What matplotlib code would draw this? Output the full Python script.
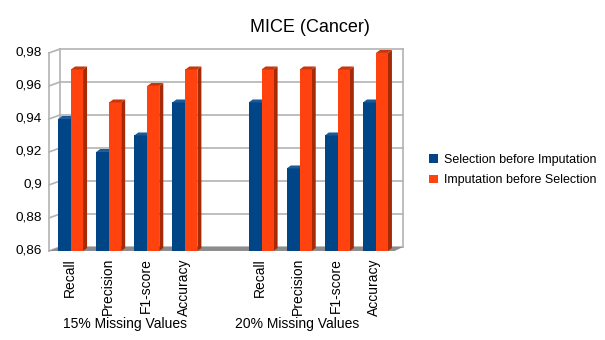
import numpy as np
import matplotlib.pyplot as plt
from matplotlib.patches import Polygon, Patch
import matplotlib.transforms as mtransforms

# ===================================================
# DATA
# ===================================================

metrics = ["Recall", "Precision", "F1-score", "Accuracy"]
groups = ["15% Missing Values", "20% Missing Values"]
series_names = ["Selection before Imputation", "Imputation before Selection"]

sel_15 = [0.94, 0.92, 0.93, 0.95]
imp_15 = [0.97, 0.95, 0.96, 0.97]
sel_20 = [0.95, 0.91, 0.93, 0.95]
imp_20 = [0.97, 0.97, 0.97, 0.98]

y_ticks = [0.86, 0.88, 0.90, 0.92, 0.94, 0.96, 0.98]
y_tick_labels = ["0,86", "0,88", "0,9", "0,92", "0,94", "0,96", "0,98"]

# ===================================================
# STYLE
# ===================================================

plt.rcParams["font.family"] = ["Liberation Sans", "DejaVu Sans"]

blue = "#004586"
blue_side = "#00305c"
blue_top = "#1a5a98"
orange = "#ff420e"
orange_side = "#a52a08"
orange_top = "#c8360c"
grid_col = "#b3b3b3"

ymin = 0.86
ymax = 0.98

# 3D depth offsets in data units
dx = 0.105
dy = 0.0018
wall_dx = 0.29
wall_dy = 0.0024

w_blue = 0.34
w_orange = 0.315

# ===================================================
# FIGURE
# ===================================================

fig = plt.figure(figsize=(6.05, 3.4), dpi=100)

ax = fig.add_axes([60 / 605, 1 - 247 / 340, 343 / 605, 198 / 340])

ax.set_xlim(0, 9)
ax.set_ylim(ymin, ymax)

for s in ax.spines.values():
    s.set_visible(False)

ax.set_xticks([])
ax.set_yticks([])

# back wall grid
for y in y_ticks:
    ax.plot([0, 9], [y, y], color=grid_col, lw=1.2, zorder=1, clip_on=False)
    # left wall slant
    ax.plot([-wall_dx, 0], [y - wall_dy, y], color=grid_col, lw=1.2,
            zorder=1, clip_on=False)

ax.plot([9, 9], [ymin, ymax], color=grid_col, lw=1.2, zorder=1, clip_on=False)
ax.plot([0, 0], [ymin, ymax], color=grid_col, lw=1.2, zorder=1, clip_on=False)
ax.plot([-wall_dx, -wall_dx], [ymin - wall_dy, ymax - wall_dy],
        color=grid_col, lw=1.2, zorder=1, clip_on=False)

# floor
floor = Polygon(
    [[-wall_dx, ymin - wall_dy], [0, ymin], [9, ymin],
     [9 - 0.22, ymin - wall_dy], ],
    closed=True, facecolor="#8c8c8c", edgecolor="none",
    zorder=2, clip_on=False
)
ax.add_patch(floor)


def bar3d(x0, width, value, face, side, top):
    base = ymin - wall_dy
    value = value - wall_dy
    front = Polygon(
        [[x0, base], [x0 + width, base], [x0 + width, value], [x0, value]],
        closed=True, facecolor=face, edgecolor="none", zorder=4, clip_on=False
    )
    right = Polygon(
        [[x0 + width, base], [x0 + width + dx, base + dy],
         [x0 + width + dx, value + dy], [x0 + width, value]],
        closed=True, facecolor=side, edgecolor="none", zorder=3, clip_on=False
    )
    cap = Polygon(
        [[x0, value], [x0 + width, value],
         [x0 + width + dx, value + dy], [x0 + dx, value + dy]],
        closed=True, facecolor=top, edgecolor="none", zorder=4, clip_on=False
    )
    ax.add_patch(right)
    ax.add_patch(front)
    ax.add_patch(cap)


slots_15 = np.arange(4)
slots_20 = np.arange(4) + 5

for slots, sel, imp in [(slots_15, sel_15, imp_15), (slots_20, sel_20, imp_20)]:
    for i, slot in enumerate(slots):
        x0 = slot - 0.05
        bar3d(x0, w_blue, sel[i], blue, blue_side, blue_top)
        bar3d(x0 + w_blue, w_orange, imp[i], orange, orange_side, orange_top)

# ===================================================
# LABELS
# ===================================================

for y, lab in zip(y_ticks, y_tick_labels):
    ax.text(-0.47, y - wall_dy, lab, ha="right", va="center",
            fontsize=9.7, color="#000000", clip_on=False)

trans = mtransforms.blended_transform_factory(ax.transData, ax.transAxes)

for slots in [slots_15, slots_20]:
    for i, slot in enumerate(slots):
        ax.text(slot + 0.25, -0.056, metrics[i], rotation=90,
                ha="center", va="top", fontsize=10, transform=trans)

ax.text(1.71, -0.39, groups[0], ha="center", va="center",
        fontsize=10, transform=trans)
ax.text(6.22, -0.39, groups[1], ha="center", va="center",
        fontsize=10, transform=trans)

fig.text(310 / 605, 1 - 28 / 340, "MICE (Cancer)", ha="center",
         va="center", fontsize=13)

handles = [
    Patch(facecolor=blue, edgecolor="none"),
    Patch(facecolor=orange, edgecolor="none"),
]

fig.legend(
    handles,
    series_names,
    loc="center left",
    bbox_to_anchor=(418 / 605, 1 - 170 / 340),
    frameon=False,
    fontsize=9,
    handlelength=0.7,
    handleheight=0.7,
    handletextpad=0.45,
    labelspacing=0.7
)

# ===================================================
# SAVE
# ===================================================

fig.savefig("out.png", dpi=100)
